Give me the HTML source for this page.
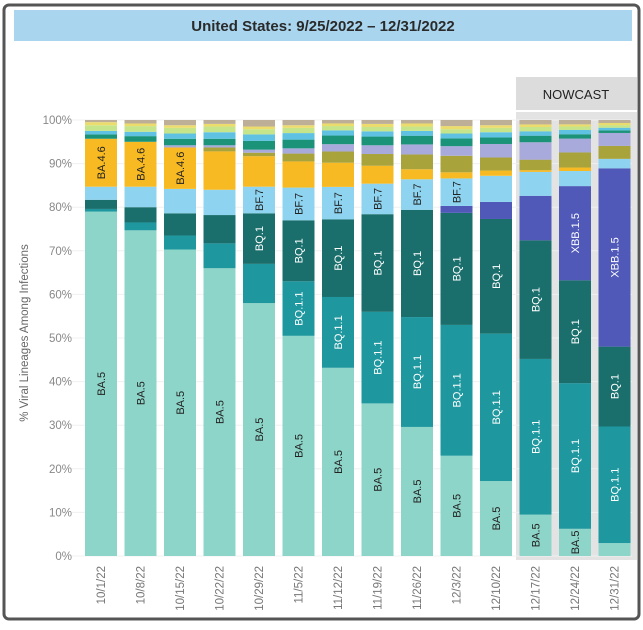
<!DOCTYPE html>
<html><head><meta charset="utf-8">
<style>
html,body{margin:0;padding:0;background:#fff;}
body{width:643px;height:625px;overflow:hidden;font-family:"Liberation Sans",sans-serif;}
</style></head>
<body>
<svg id="chart" width="643" height="625" xmlns="http://www.w3.org/2000/svg">
<rect x="4" y="5" width="635" height="614" rx="5" fill="#fff" stroke="#555" stroke-width="3"/>
<rect x="14" y="10" width="618" height="31" fill="#a9d6ee"/>
<text x="323" y="31" text-anchor="middle" font-size="15" font-weight="bold" fill="#2a2a2a">United States: 9/25/2022 – 12/31/2022</text>
<rect x="516" y="112" width="121" height="448" fill="#e3e3e3"/>
<rect x="516" y="77" width="121" height="33" fill="#dcdcdc"/>
<text x="576" y="99" text-anchor="middle" font-size="13" fill="#222">NOWCAST</text>
<text transform="translate(28,333) rotate(-90)" text-anchor="middle" font-size="11.5" fill="#666">% Viral Lineages Among Infections</text>
<g id="grid"></g><g id="bars"></g><g id="labels"></g>
</svg>
<script>
const dates=["10/1/22","10/8/22","10/15/22","10/22/22","10/29/22","11/5/22","11/12/22","11/19/22","11/26/22","12/3/22","12/10/22","12/17/22","12/24/22","12/31/22"];
const yTicks=[0,10,20,30,40,50,60,70,80,90,100];
const lineages=["BA.5","BQ.1.1","BQ.1","XBB.1.5","BF.7","BA.4.6","BN.1","BA.2.75","BA.4.6b","BA.2","BA.5.2.6","BF.11","Other"];
const colors=["#8dd5c8","#1e979f","#1a6f6c","#5058b8","#8ed4f0","#f8ba22","#a9a33c","#a8aadb","#1b9379","#5fc2e2","#c6e48a","#ecdc6c","#bdae98"];
const darkText=[true,false,false,false,true,true,false,false,false,false,false,false,false];
const BA5=[79,74.7,70.3,66,58,50.5,43.6,35,29.6,23,17.2,9.5,6.3,3];
const BQ11=[0.6,1.8,3.2,5.7,9,12.5,16.4,21,25.2,30,33.8,35.7,33.7,27];
const BQ1=[2.1,3.5,5.1,6.5,11.6,14,18,22.4,24.6,25.7,26.3,27.2,23.8,18.5];
const XBB=[0,0,0,0,0,0,0,0,0,1.6,3.9,10.2,21.8,41.3];
const BF7=[3,4.7,5.6,5.8,6.1,7.5,7.5,7,7,6.3,6,5.5,3.5,2.2];
const BA46=[11,10.3,9.5,8.8,7,6,5.6,4.1,2.3,1.4,1.2,0.4,0.8,0];
const BN1=[0,0,0,0.9,0.8,1.8,2.6,2.7,3.4,3.8,3,2.4,3.5,3];
const BA275=[0,0,0.5,0.5,0.7,1.2,1.7,2,2.3,2.2,3.1,4,3.2,3];
const TG=[1,1.3,1.5,1.5,2,2,2,2,2,1.8,1.5,1.5,1,0.6];
const SKY=[0.8,1,1.2,1.5,1.5,1.5,1.2,1.2,1.1,1.1,1.2,1,1,0.6];
const LGREEN=[1.3,1.3,1.3,1.3,1.2,1.2,1,1,1,1,1,1,0.8,0.6];
const YELLOW=[0.7,0.6,0.6,0.6,0.6,0.6,0.6,0.7,0.7,0.7,0.6,0.6,0.5,0.5];
const OTHER=[0.5,0.8,1.2,0.9,1.5,1.2,0.8,0.9,0.8,1.4,1.2,1,1,0.7];
const series=[BA5,BQ11,BQ1,XBB,BF7,BA46,BN1,BA275,TG,SKY,LGREEN,YELLOW,OTHER];
const showLabel=[
 [1,0,0,0,0,1,0,0,0,0,0,0,0],[1,0,0,0,0,1,0,0,0,0,0,0,0],[1,0,0,0,0,1,0,0,0,0,0,0,0],[1,0,0,0,0,0,0,0,0,0,0,0,0],
 [1,0,1,0,1,0,0,0,0,0,0,0,0],[1,1,1,0,1,0,0,0,0,0,0,0,0],[1,1,1,0,1,0,0,0,0,0,0,0,0],[1,1,1,0,1,0,0,0,0,0,0,0,0],
 [1,1,1,0,1,0,0,0,0,0,0,0,0],[1,1,1,0,1,0,0,0,0,0,0,0,0],[1,1,1,0,0,0,0,0,0,0,0,0,0],[1,1,1,0,0,0,0,0,0,0,0,0,0],
 [1,1,1,1,0,0,0,0,0,0,0,0,0],[0,1,1,1,0,0,0,0,0,0,0,0,0]];
const NS="http://www.w3.org/2000/svg";
const y0=556,y100=120,x0=85,pitch=39.5,bw=32;
function yS(v){return y0-(y0-y100)*v/100;}
function xS(i){return x0+i*pitch;}
function mk(t,a,p){const e=document.createElementNS(NS,t);for(const k in a)e.setAttribute(k,a[k]);p.appendChild(e);return e;}
const grid=document.getElementById('grid'),bars=document.getElementById('bars'),labels=document.getElementById('labels');
yTicks.forEach(t=>{
 const l=mk('line',{x1:72,x2:632,y1:yS(t),y2:yS(t),stroke:'#f0f0f0','stroke-width':1},grid);
 
 
 const tx=mk('text',{x:72,y:yS(t)+4,'text-anchor':'end','font-size':11.5,fill:'#888'},grid);
 tx.textContent=t+'%';
 
 
});
dates.forEach((d,i)=>{
 const tot=series.reduce((s,a)=>s+a[i],0);
 let acc=0;
 series.forEach((arr,k)=>{
  const v=arr[i]*100/tot; if(v<=0)return;
  const r=mk('rect',{x:xS(i),y:yS(acc+v),width:bw,height:yS(acc)-yS(acc+v),fill:colors[k]},bars);
  
  
  if(showLabel[i][k]){
   const cy=(yS(acc)+yS(acc+v))/2, cx=xS(i)+bw/2;
   const t=mk('text',{transform:`translate(${cx+4},${cy}) rotate(-90)`,'text-anchor':'middle','font-size':11,fill:darkText[k]?'#222':'#fff'},labels);
   t.textContent=lineages[k];
   
   
  }
  acc+=v;
 });
 const xt=mk('text',{transform:`translate(${xS(i)+bw/2+4},566) rotate(-90)`,'text-anchor':'end','font-size':11.5,fill:'#777'},labels);
 xt.textContent=d;
 
 
});
</script>
</body></html>
